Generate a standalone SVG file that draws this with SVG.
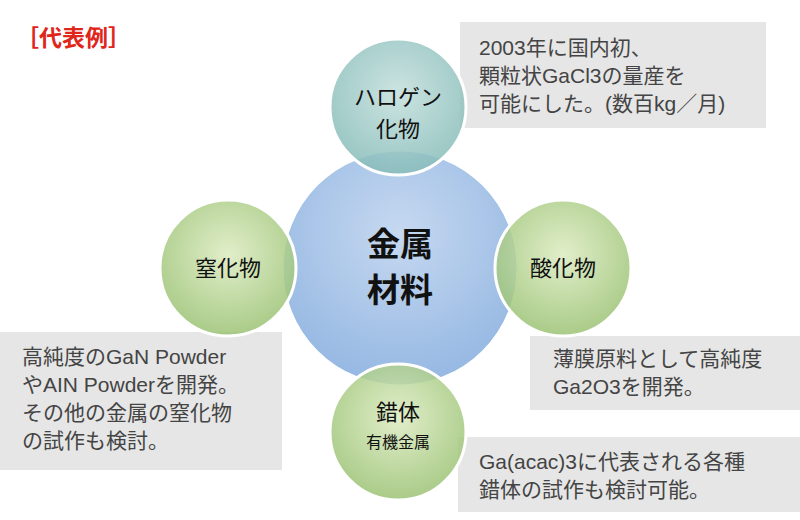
<svg xmlns="http://www.w3.org/2000/svg" width="800" height="520" viewBox="0 0 800 520">
<style>
.box{fill:#e6e6e6}
.bt{font-family:"Liberation Sans","Noto Sans CJK JP",sans-serif;font-size:21px;fill:#444}
.ct{font-family:"Liberation Sans","Noto Sans CJK JP",sans-serif;fill:#111;text-anchor:middle}
.c{stroke:#fff;stroke-width:3;fill-opacity:0.85}
</style>
<defs>
<radialGradient id="gb" cx="0.5" cy="0.35" r="0.7"><stop offset="0" stop-color="#bcd2ee"/><stop offset="1" stop-color="#7ea8dc"/></radialGradient>
<radialGradient id="gg" cx="0.5" cy="0.4" r="0.7"><stop offset="0" stop-color="#dcebc0"/><stop offset="1" stop-color="#8fbb66"/></radialGradient>
<radialGradient id="gt" cx="0.5" cy="0.4" r="0.7"><stop offset="0" stop-color="#c3dfdc"/><stop offset="1" stop-color="#7cb6b2"/></radialGradient>
</defs>
<rect width="800" height="520" fill="#fff"/>
<text x="16" y="46" font-family="Liberation Sans,Noto Sans CJK JP,sans-serif" font-size="23" font-weight="bold" fill="#e0261b">［代表例］</text>
<g id="box-halogen"><rect class="box" x="460" y="22" width="306" height="106"/><text class="bt" x="479" y="55">2003年に国内初、</text><text class="bt" x="479" y="83">顆粒状GaCl3の量産を</text><text class="bt" x="479" y="111">可能にした。(数百kg／月)</text></g>
<g id="box-nitride"><rect class="box" x="0" y="332" width="282" height="138"/><text class="bt" x="22" y="364">高純度のGaN Powder</text><text class="bt" x="22" y="392">やAIN Powderを開発。</text><text class="bt" x="22" y="420">その他の金属の窒化物</text><text class="bt" x="22" y="448">の試作も検討。</text></g>
<g id="box-oxide"><rect class="box" x="530" y="336" width="270" height="74"/><text class="bt" x="553" y="366">薄膜原料として高純度</text><text class="bt" x="553" y="394">Ga2O3を開発。</text></g>
<g id="box-complex"><rect class="box" x="458" y="437" width="342" height="75"/><text class="bt" x="479" y="469">Ga(acac)3に代表される各種</text><text class="bt" x="479" y="497">錯体の試作も検討可能。</text></g>
<g id="center"><circle class="c" cx="400" cy="268" r="118" fill="url(#gb)"/><text class="ct" x="400" y="256" font-size="33" font-weight="bold">金属</text><text class="ct" x="400" y="302" font-size="33" font-weight="bold">材料</text></g>
<g id="halogen"><circle class="c" cx="398" cy="107" r="68" fill="url(#gt)"/><text class="ct" x="398" y="105" font-size="22">ハロゲン</text><text class="ct" x="398" y="137" font-size="22">化物</text></g>
<g id="nitride"><circle class="c" cx="228" cy="268" r="68" fill="url(#gg)"/><text class="ct" x="228" y="276" font-size="22">窒化物</text></g>
<g id="oxide"><circle class="c" cx="563" cy="268" r="68" fill="url(#gg)"/><text class="ct" x="563" y="276" font-size="22">酸化物</text></g>
<g id="complex"><circle class="c" cx="398" cy="432" r="68" fill="url(#gg)"/><text class="ct" x="398" y="420" font-size="22">錯体</text><text class="ct" x="398" y="448" font-size="16">有機金属</text></g>
<g id="connectors"/>
</svg>
